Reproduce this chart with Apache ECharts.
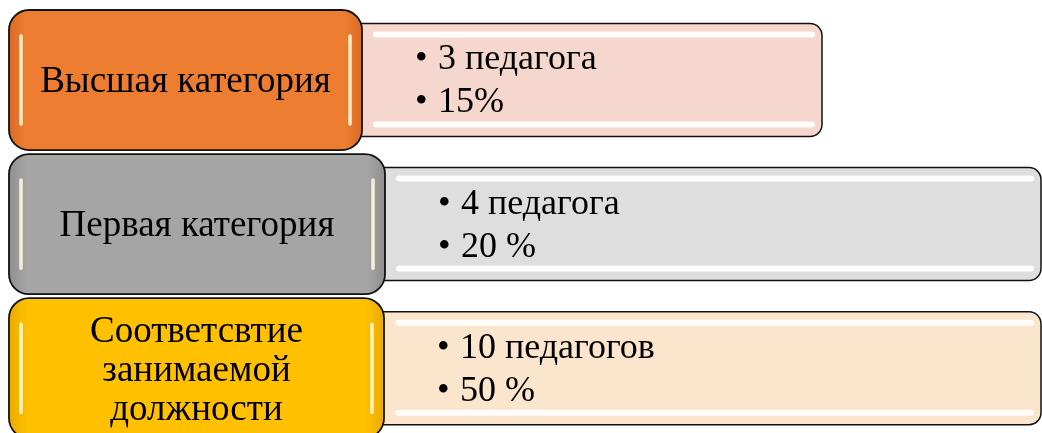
<!DOCTYPE html>
<html>
<head>
<meta charset="utf-8">
<script src="https://cdn.jsdelivr.net/npm/echarts@6/dist/echarts.min.js"></script>
<style>
  html, body { margin: 0; padding: 0; background: #fff; }
  #chart { width: 1042px; height: 433px; }
</style>
</head>
<body>
<div id="chart"></div>
<script>
// data
const categories = ['Высшая категория', 'Первая категория', 'Соответсвтие\nзанимаемой\nдолжности']
const countLabels = ['3 педагога', '4 педагога', '10 педагогов']
const shareLabels = ['15%', '20 %', '50 %']

// layout (px on the hidden x axis) and colours
const boxLeft = 9
const leftBoxRight = [362, 385, 384]
const rightBoxEnd = [822, 1041, 1041]
const leftFills = ['#ED7D31', '#A5A5A5', '#FFC000']
const leftEdges = ['#D96A22', '#8E8E8E', '#E8AA00']
const rightFills = ['#F5D7CD', '#DEDEDE', '#FBE6CD']

function renderItem (params, api) {
    const i = api.value(1)
    const cy = api.coord([0, i])[1]
    const band = api.size([0, 1])[1]
    const x0 = api.coord([boxLeft, i])[0]
    const x1 = api.coord([leftBoxRight[i], i])[0]
    const x2 = api.coord([rightBoxEnd[i], i])[0]
    const lh = band - 4
    const lt = cy - lh / 2
    const rh = 113
    const rt = cy - rh / 2
    const serif = '"Liberation Serif", "DejaVu Serif", serif'
    const stripe = { stroke: 'rgba(255,255,255,0.92)', lineWidth: 6, lineCap: 'round' }
    const glint = { stroke: 'rgba(255,250,215,0.9)', lineWidth: 3.5, lineCap: 'round' }
    const body = { verticalAlign: 'middle', font: '36px ' + serif, fill: '#000' }
    const multi = categories[i].indexOf('\n') >= 0
    return {
        type: 'group',
        children: [
            // right box (behind)
            {
                type: 'rect',
                shape: { x: x1 - 12, y: rt, width: x2 - x1 + 12, height: rh, r: 12 },
                style: { fill: rightFills[i], stroke: '#111', lineWidth: 1.5 }
            },
            { type: 'line', shape: { x1: x1 + 14, y1: rt + 11, x2: x2 - 10, y2: rt + 11 }, style: stripe },
            { type: 'line', shape: { x1: x1 + 14, y1: rt + rh - 12, x2: x2 - 10, y2: rt + rh - 12 }, style: stripe },
            // left box
            {
                type: 'rect',
                shape: { x: x0, y: lt, width: x1 - x0, height: lh, r: 20 },
                style: {
                    fill: new echarts.graphic.LinearGradient(0, 0, 1, 0, [
                        { offset: 0, color: leftEdges[i] },
                        { offset: 0.05, color: leftFills[i] },
                        { offset: 0.95, color: leftFills[i] },
                        { offset: 1, color: leftEdges[i] }
                    ]),
                    stroke: '#111',
                    lineWidth: 1.8
                }
            },
            { type: 'line', shape: { x1: x0 + 12, y1: lt + 26, x2: x0 + 12, y2: lt + lh - 26 }, style: glint },
            { type: 'line', shape: { x1: x1 - 12, y1: lt + 26, x2: x1 - 12, y2: lt + lh - 26 }, style: glint },
            {
                type: 'text',
                style: {
                    text: categories[i],
                    x: (x0 + x1) / 2,
                    y: cy + (multi ? 3 : 2),
                    align: 'center',
                    verticalAlign: 'middle',
                    font: '37px ' + serif,
                    lineHeight: 39,
                    fill: '#000'
                }
            },
            // bullets
            { type: 'text', style: Object.assign({ text: '•', x: x1 + 53, y: cy - 20 }, body) },
            { type: 'text', style: Object.assign({ text: countLabels[i], x: x1 + 76, y: cy - 20 }, body) },
            { type: 'text', style: Object.assign({ text: '•', x: x1 + 53, y: cy + 23 }, body) },
            { type: 'text', style: Object.assign({ text: shareLabels[i], x: x1 + 76, y: cy + 23 }, body) }
        ]
    }
}

const chart = echarts.init(document.getElementById('chart'))
chart.setOption({
    animation: false,
    grid: { left: 0, right: 0, top: 8, bottom: 0 },
    xAxis: { type: 'value', min: 0, max: 1042, show: false },
    // rows sit at 0, 1, 2; the last row runs past the bottom edge as in the original
    yAxis: { type: 'value', inverse: true, min: -0.5, max: 2.45, show: false },
    series: [{
        type: 'custom',
        renderItem: renderItem,
        encode: { x: 0, y: 1 },
        data: categories.map((c, i) => [0, i])
    }]
})
</script>
</body>
</html>
